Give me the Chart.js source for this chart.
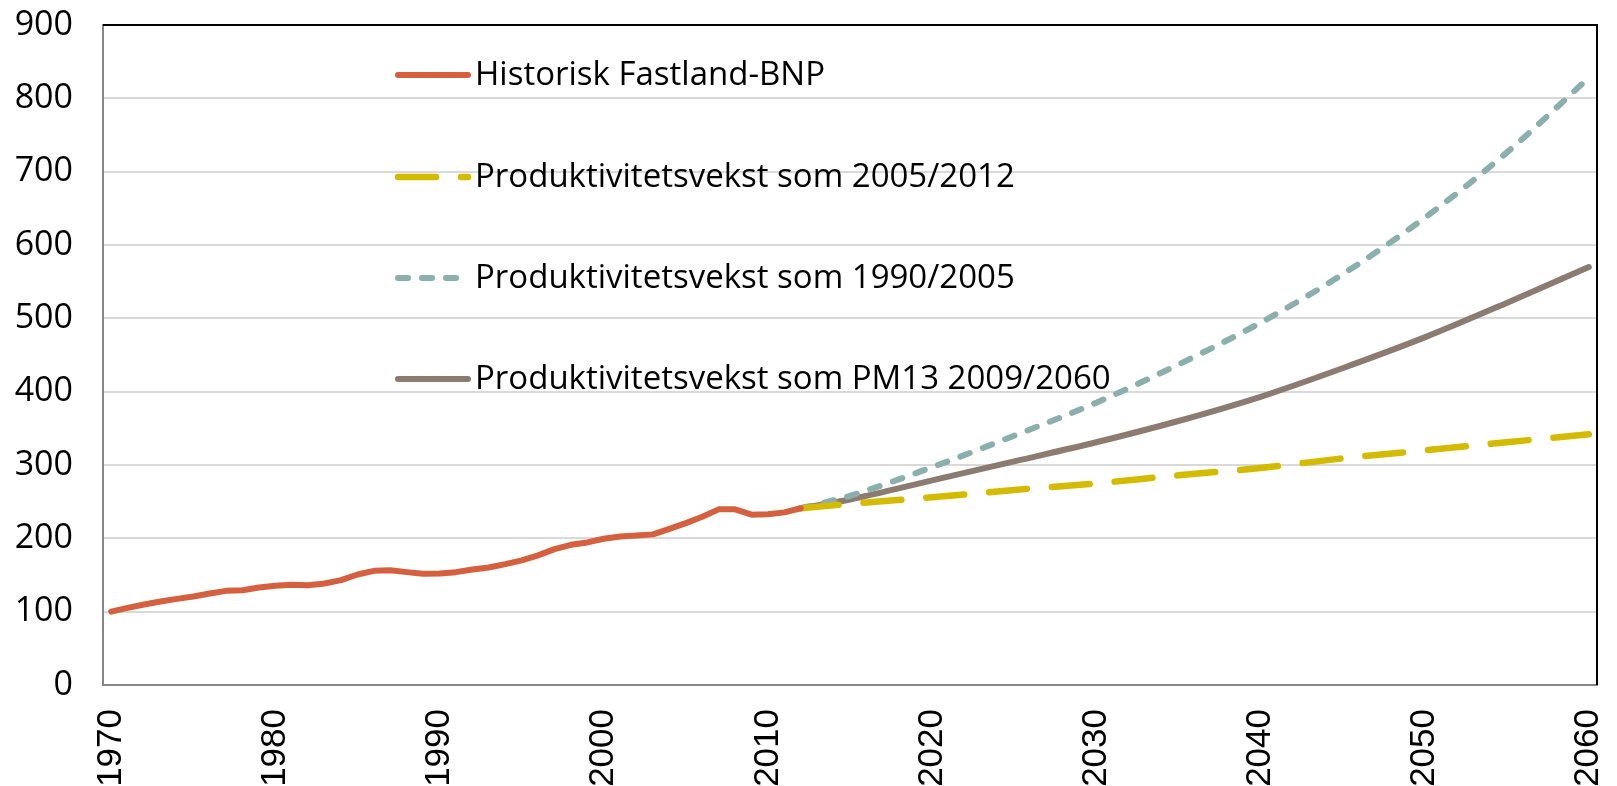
<!DOCTYPE html>
<html>
<head>
<meta charset="utf-8">
<script src="https://cdn.jsdelivr.net/npm/chart.js@4"></script>
<style>
  html, body { margin: 0; padding: 0; background: #fff; }
  canvas { display: block; }
</style>
</head>
<body>
<canvas id="bnpChart" width="1617" height="786"></canvas>
<script>
// historisk Fastland-BNP, indeks 1970 = 100
var histYears = [1970, 1971, 1972, 1973, 1974, 1975, 1976, 1977, 1978, 1979,
                 1980, 1981, 1982, 1983, 1984, 1985, 1986, 1987, 1988, 1989,
                 1990, 1991, 1992, 1993, 1994, 1995, 1996, 1997, 1998, 1999,
                 2000, 2001, 2002, 2003, 2004, 2005, 2006, 2007, 2008, 2009,
                 2010, 2011, 2012]
var histValues = [100, 105.2, 109.8, 113.9, 117.4, 120.7, 124.8, 128.4, 129.3, 133,
                  135.2, 136.6, 136.1, 138.4, 143, 150.7, 155.7, 156.6, 153.9, 151.6,
                  152.1, 153.9, 157.6, 160.3, 164.8, 169.9, 176.7, 185.3, 191.2, 194.4,
                  199.4, 202.6, 204, 205.4, 213, 220.8, 229.4, 239.5, 239.5, 232.2,
                  232.7, 235.4, 241]

// framskrivinger
var projYears = [2012, 2015, 2020, 2025, 2030, 2035, 2040, 2045, 2050, 2055, 2060]
var prod2005_2012 = [241, 247, 256, 266, 275, 286, 296, 309, 320, 331, 342]
var prod1990_2005 = [241, 258, 297, 340, 385, 437, 494, 560, 637, 726, 828]
var prodPM13 = [241, 253, 279, 305, 331, 360, 393, 432, 474, 521, 570]

var seriesLabels = ['Historisk Fastland-BNP',
                    'Produktivitetsvekst som 2005/2012',
                    'Produktivitetsvekst som 1990/2005',
                    'Produktivitetsvekst som PM13 2009/2060']
var xTickYears = [1970, 1980, 1990, 2000, 2010, 2020, 2030, 2040, 2050, 2060]
var yMax = 900
var yStep = 100

function toPoints(xs, ys) {
    return xs.map(function (x, i) { return { x: x, y: ys[i] } })
}

// legend drawn inside the plot area, like the original
var innerLegend = {
    id: 'innerLegend',
    afterDatasetsDraw: function (chart) {
        var ctx = chart.ctx
        var x0 = 398, x1 = 468, textX = 475
        var rows = [75, 177, 278, 379]
        ctx.save()
        chart.data.datasets.forEach(function (ds, i) {
            var y = rows[i]
            ctx.beginPath()
            ctx.strokeStyle = ds.borderColor
            ctx.lineWidth = ds.borderWidth
            ctx.lineCap = ds.borderCapStyle || 'butt'
            ctx.setLineDash(ds.borderDash || [])
            ctx.moveTo(x0, y)
            ctx.lineTo(x1, y)
            ctx.stroke()
            ctx.setLineDash([])
            ctx.fillStyle = '#000'
            ctx.font = '33px "Open Sans"'
            ctx.textBaseline = 'middle'
            ctx.textAlign = 'left'
            ctx.fillText(ds.label, textX, y + 1)
        })
        ctx.restore()
    }
}

// black frame on top and right of plot area
var plotFrame = {
    id: 'plotFrame',
    afterDraw: function (chart) {
        var a = chart.chartArea
        var ctx = chart.ctx
        ctx.save()
        ctx.strokeStyle = '#000'
        ctx.lineWidth = 2
        ctx.beginPath()
        ctx.moveTo(a.left, a.top)
        ctx.lineTo(a.right, a.top)
        ctx.lineTo(a.right, a.bottom)
        ctx.stroke()
        ctx.restore()
    }
}

var ctx = document.getElementById('bnpChart').getContext('2d')
var bnpChart = new Chart(ctx, {
    type: 'line',
    data: {
        datasets: [
            {
                label: seriesLabels[0],
                data: toPoints(histYears, histValues),
                borderColor: '#D4603F',
                borderWidth: 6,
                borderCapStyle: 'round',
                borderJoinStyle: 'round',
                pointRadius: 0,
                tension: 0
            },
            {
                label: seriesLabels[1],
                data: toPoints(projYears, prod2005_2012),
                borderColor: '#D4BA00',
                borderWidth: 6.5,
                borderCapStyle: 'round',
                borderDash: [38, 25],
                pointRadius: 0,
                cubicInterpolationMode: 'monotone'
            },
            {
                label: seriesLabels[2],
                data: toPoints(projYears, prod1990_2005),
                borderColor: '#8AAFAC',
                borderWidth: 6,
                borderCapStyle: 'round',
                borderDash: [10, 14],
                pointRadius: 0,
                cubicInterpolationMode: 'monotone'
            },
            {
                label: seriesLabels[3],
                data: toPoints(projYears, prodPM13),
                borderColor: '#8C7B70',
                borderWidth: 6,
                borderCapStyle: 'round',
                pointRadius: 0,
                cubicInterpolationMode: 'monotone'
            }
        ]
    },
    options: {
        responsive: false,
        animation: false,
        devicePixelRatio: 1,
        layout: { padding: { top: 25, right: 20, left: 0, bottom: 0 } },
        plugins: {
            legend: { display: false },
            tooltip: { enabled: false }
        },
        scales: {
            x: {
                type: 'linear',
                min: 1969.5,
                max: 2060.5,
                afterBuildTicks: function (scale) {
                    scale.ticks = xTickYears.map(function (v) { return { value: v } })
                },
                afterFit: function (scale) {
                    scale.height = 101
                    scale.paddingLeft = 0
                    scale.paddingRight = 0
                    scale.paddingTop = 0
                    scale.paddingBottom = 0
                },
                grid: { display: false },
                border: { display: true, color: '#868686', width: 2 },
                ticks: {
                    autoSkip: false,
                    minRotation: 90,
                    maxRotation: 90,
                    padding: 16,
                    color: '#000',
                    font: { family: '"Liberation Sans", Arial, sans-serif', size: 35 },
                    callback: function (v) { return String(v) }
                }
            },
            y: {
                min: 0,
                max: yMax,
                afterFit: function (scale) {
                    scale.width = 103
                    scale.paddingTop = 0
                    scale.paddingBottom = 0
                    scale.paddingLeft = 0
                    scale.paddingRight = 0
                },
                grid: { color: '#D9D9D9', lineWidth: 2, drawTicks: false },
                border: { display: true, color: '#868686', width: 2 },
                ticks: {
                    stepSize: yStep,
                    padding: 30,
                    color: '#000',
                    font: { family: '"Open Sans", sans-serif', size: 34 }
                }
            }
        }
    },
    plugins: [innerLegend, plotFrame]
})
</script>
</body>
</html>
